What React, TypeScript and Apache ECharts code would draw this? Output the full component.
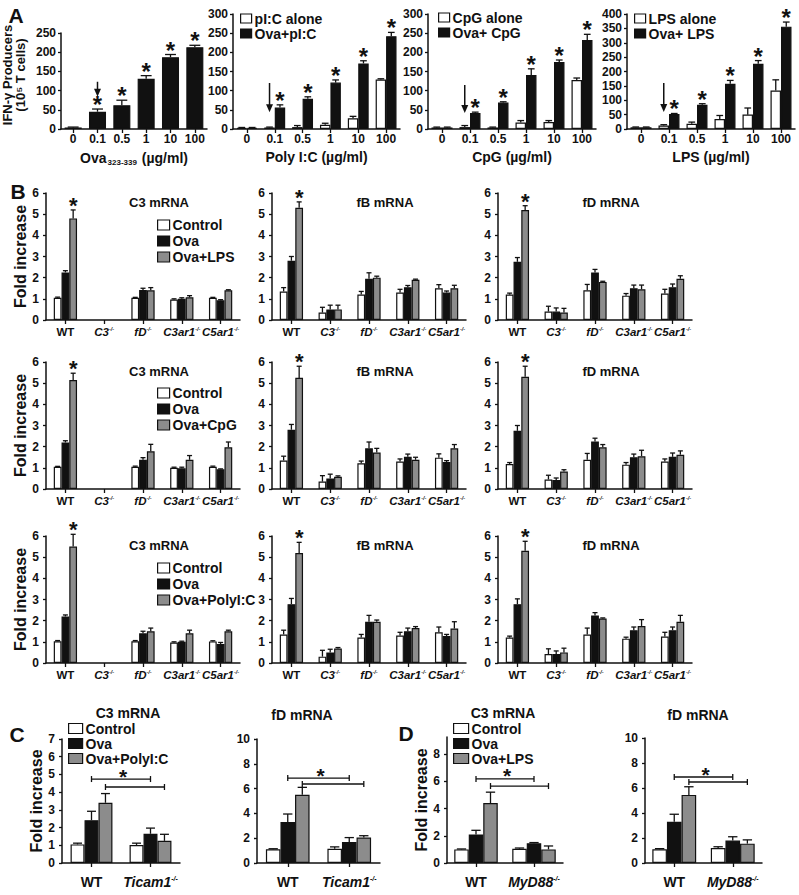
import React, { useEffect, useRef } from "react";
import * as echarts from "echarts";

const FONT = '"Liberation Sans", Arial, Helvetica, sans-serif';
const INK = "#111111";
const GRAY = "#8c8c8c";
const WHITE = "#ffffff";

// ---------- Panel A data ----------
const DOSES = ["0", "0.1", "0.5", "1", "10", "100"];
const OVA_MEAN = [4, 45, 62, 131, 187, 213];
const OVA_ERR = [1, 7, 13, 8, 7, 5];
const PIC_ALONE = [3, 4, 5, 11, 28, 129];
const PIC_ALONE_ERR = [1, 1, 4, 4, 5, 2];
const OVA_PIC = [3, 56, 79, 121, 171, 242];
const OVA_PIC_ERR = [1, 7, 5, 7, 7, 10];
const CPG_ALONE = [4, 5, 4, 17, 18, 128];
const CPG_ALONE_ERR = [1, 4, 1, 5, 4, 5];
const OVA_CPG = [4, 42, 69, 141, 175, 232];
const OVA_CPG_ERR = [1, 2, 2, 16, 5, 15];
const LPS_ALONE = [6, 12, 18, 35, 50, 134];
const LPS_ALONE_ERR = [1, 3, 6, 12, 23, 37];
const OVA_LPS = [6, 52, 84, 157, 227, 356];
const OVA_LPS_ERR = [1, 2, 4, 12, 11, 16];
// arrows: [category, series, from value, tip value]
const ARROW_A1 = [1, 0, 123, 84];
const ARROW_A2 = [1, 0, 120, 44];
const ARROW_A3 = [1, 0, 115, 42];
const ARROW_A4 = [1, 0, 160, 59];

// ---------- Panel B data (rows: Control, Ova, Ova+TLR ligand) ----------
const GENOTYPES = ["WT", "C3", "fD", "C3ar1", "C5ar1"];
const LPS_C3 = [[1.05, null, 1.05, 0.97, 1.05], [2.25, null, 1.42, 1.0, 0.93], [4.8, null, 1.4, 1.07, 1.4]];
const LPS_C3_ERR = [[0.03, null, 0.02, 0.03, 0.02], [0.08, null, 0.08, 0.05, 0.03], [0.4, null, 0.13, 0.08, 0.03]];
const LPS_FB = [[1.35, 0.35, 1.2, 1.3, 1.5], [2.8, 0.5, 1.95, 1.55, 1.3], [5.3, 0.5, 2.0, 1.9, 1.5]];
const LPS_FB_ERR = [[0.18, 0.25, 0.15, 0.15, 0.17], [0.2, 0.2, 0.28, 0.08, 0.07], [0.28, 0.2, 0.07, 0.03, 0.14]];
const LPS_FD = [[1.2, 0.4, 1.4, 1.15, 1.25], [2.75, 0.4, 2.25, 1.5, 1.55], [5.2, 0.35, 1.8, 1.45, 1.95]];
const LPS_FD_ERR = [[0.07, 0.25, 0.28, 0.1, 0.2], [0.2, 0.17, 0.14, 0.15, 0.15], [0.2, 0.2, 0.03, 0.2, 0.14]];

const CPG_C3 = [[1.05, null, 1.05, 1.0, 1.05], [2.2, null, 1.38, 0.98, 0.93], [5.15, null, 1.78, 1.38, 1.97]];
const CPG_C3_ERR = [[0.02, null, 0.03, 0.03, 0.03], [0.08, null, 0.1, 0.05, 0.02], [0.32, null, 0.33, 0.2, 0.25]];
const CPG_FB = [[1.35, 0.35, 1.22, 1.3, 1.48], [2.8, 0.5, 1.92, 1.52, 1.27], [5.25, 0.58, 1.72, 1.38, 1.92]];
const CPG_FB_ERR = [[0.2, 0.28, 0.1, 0.12, 0.18], [0.25, 0.2, 0.3, 0.13, 0.07], [0.55, 0.04, 0.2, 0.12, 0.18]];
const CPG_FD = [[1.18, 0.45, 1.38, 1.15, 1.3], [2.75, 0.42, 2.25, 1.5, 1.52], [5.3, 0.83, 1.97, 1.55, 1.62]];
const CPG_FD_ERR = [[0.07, 0.2, 0.3, 0.1, 0.12], [0.25, 0.1, 0.15, 0.15, 0.18], [0.5, 0.08, 0.13, 0.28, 0.18]];

const PIC_C3 = [[1.03, null, 1.03, 0.97, 1.02], [2.2, null, 1.4, 1.0, 0.9], [5.5, null, 1.5, 1.4, 1.5]];
const PIC_C3_ERR = [[0.03, null, 0.03, 0.03, 0.03], [0.07, null, 0.1, 0.03, 0.07], [0.58, null, 0.15, 0.15, 0.05]];
const PIC_FB = [[1.35, 0.3, 1.2, 1.3, 1.45], [2.78, 0.5, 1.95, 1.5, 1.27], [5.2, 0.68, 1.95, 1.65, 1.63]];
const PIC_FB_ERR = [[0.2, 0.3, 0.15, 0.15, 0.25], [0.27, 0.15, 0.3, 0.15, 0.08], [0.5, 0.05, 0.08, 0.07, 0.32]];
const PIC_FD = [[1.2, 0.42, 1.35, 1.15, 1.25], [2.78, 0.42, 2.25, 1.55, 1.55], [5.3, 0.5, 2.1, 1.75, 1.95]];
const PIC_FD_ERR = [[0.07, 0.25, 0.3, 0.07, 0.2], [0.25, 0.15, 0.13, 0.15, 0.15], [0.45, 0.2, 0.03, 0.3, 0.3]];

// ---------- Panels C / D data ----------
const TICAM_CATS = ["WT", "Ticam1"];
const MYD_CATS = ["WT", "MyD88"];
const TICAM_C3 = [[1.05, 1.02], [2.42, 1.65], [3.4, 1.25]];
const TICAM_C3_ERR = [[0.07, 0.1], [0.5, 0.32], [0.52, 0.37]];
const TICAM_FD = [[1.1, 1.15], [3.3, 1.7], [5.5, 2.05]];
const TICAM_FD_ERR = [[0.05, 0.15], [0.65, 0.35], [0.6, 0.15]];
const MYD_C3 = [[1.0, 1.05], [2.1, 1.45], [4.4, 1.0]];
const MYD_C3_ERR = [[0.03, 0.05], [0.3, 0.05], [0.8, 0.25]];
const MYD_FD = [[1.1, 1.2], [3.3, 1.8], [5.45, 1.55]];
const MYD_FD_ERR = [[0.05, 0.1], [0.6, 0.3], [0.65, 0.3]];
// brackets: [from category, to category, series, value, star]
const TICAM_C3_BRACKETS = [[0, 1, 1, 4.74, 1], [0, 1, 2, 4.29, 0]];
const TICAM_FD_BRACKETS = [[0, 1, 1, 6.85, 1], [0, 1, 2, 6.37, 0]];
const MYD_C3_BRACKETS = [[0, 1, 1, 6.17, 1], [0, 1, 2, 5.65, 0]];
const MYD_FD_BRACKETS = [[0, 1, 1, 6.88, 1], [0, 1, 2, 6.48, 0]];

const bold = (size: number, extra: any = {}) => ({ fontFamily: FONT, fontWeight: "bold", fontSize: size, color: INK, ...extra });

function barPos(api: any, cat: number, si: number, n: number, gap: number) {
  const band = api.size([1, 0])[0];
  const group = band * (1 - gap);
  const bw = group / n;
  const c = api.coord([cat, 0]);
  return { x: c[0] - group / 2 + bw * (si + 0.5), bw };
}

function starText(x: number, y: number, size: number) {
  return {
    type: "text",
    style: {
      text: "*", x, y, textAlign: "center", textVerticalAlign: "middle", align: "center", verticalAlign: "middle",
      font: `bold ${size}px ${FONT}`, lineHeight: Math.round(size * 0.5), fill: INK,
    },
  };
}

type Panel = {
  left: number; top: number; width: number; height: number;
  cats: string[]; max: number; interval?: number; customTicks?: number[];
  names: string[]; colors: string[]; means: any[][]; errs: any[][]; gap: number;
  stars: number[][]; starSize: number;
  xAxisLabel: any; xName?: string; xNameGap?: number; xNameStyle?: any;
  yFont: number; yMargin: number; yName?: string; yNameGap?: number;
  arrow?: number[]; brackets?: number[][];
  legend?: { left: number; top: number; lineHeight: number; iw: number; ih: number; size: number };
};

const grids: any[] = [];
const xAxes: any[] = [];
const yAxes: any[] = [];
const seriesList: any[] = [];
const legends: any[] = [];

function addPanel(p: Panel) {
  const gi = grids.length;
  const n = p.names.length;
  grids.push({ left: p.left, top: p.top, width: p.width, height: p.height, containLabel: false });
  xAxes.push({
    type: "category", gridIndex: gi, data: p.cats,
    axisLine: { show: true, lineStyle: { color: INK, width: 1.5 } },
    axisTick: { show: true, alignWithLabel: true, length: 4, lineStyle: { color: INK, width: 1.3 } },
    axisLabel: { interval: 0, ...p.xAxisLabel },
    name: p.xName, nameLocation: "middle", nameGap: p.xNameGap, nameTextStyle: p.xNameStyle,
    splitLine: { show: false },
  });
  const yAxis: any = {
    type: "value", gridIndex: gi, min: 0, max: p.max,
    axisLine: { show: true, lineStyle: { color: INK, width: 1.5 } },
    axisTick: { show: true, length: 3, lineStyle: { color: INK, width: 1.3 } },
    axisLabel: bold(p.yFont, { margin: p.yMargin }),
    splitLine: { show: false },
  };
  if (p.interval) yAxis.interval = p.interval;
  if (p.customTicks) {
    yAxis.axisTick.customValues = p.customTicks;
    yAxis.axisLabel.customValues = p.customTicks;
  }
  if (p.yName) {
    yAxis.name = p.yName;
    yAxis.nameLocation = "middle";
    yAxis.nameRotate = 90;
    yAxis.nameGap = p.yNameGap;
    yAxis.nameTextStyle = bold(16);
  }
  yAxes.push(yAxis);

  p.names.forEach((nm, si) => {
    seriesList.push({
      type: "bar", name: nm, xAxisIndex: gi, yAxisIndex: gi, data: p.means[si],
      barGap: "0%", barCategoryGap: `${p.gap * 100}%`, silent: true,
      itemStyle: { color: p.colors[si], borderColor: INK, borderWidth: 1.2 },
    });
  });

  const items: any[] = [];
  p.means.forEach((arr, si) =>
    arr.forEach((m: any, ci: number) => {
      if (m == null) return;
      const e = p.errs[si][ci] ?? 0;
      const star = p.stars.some((s) => s[0] === ci && s[1] === si) ? 1 : 0;
      items.push([ci, si, m, e, star]);
    })
  );
  const gap = p.gap;
  const starSize = p.starSize;
  seriesList.push({
    type: "custom", xAxisIndex: gi, yAxisIndex: gi, clip: false, silent: true, z: 5,
    encode: { x: 0, y: 2 }, data: items,
    renderItem: (_params: any, api: any) => {
      const cat = api.value(0), si = api.value(1), m = api.value(2), e = api.value(3), star = api.value(4);
      const { x, bw } = barPos(api, cat, si, n, gap);
      const yb = api.coord([cat, m])[1];
      const yt = api.coord([cat, m + e])[1];
      const cap = Math.max(bw * 0.32, 2.5);
      const ch: any[] = [];
      if (e > 0) {
        ch.push({ type: "line", shape: { x1: x, y1: yb, x2: x, y2: yt }, style: { stroke: INK, lineWidth: 1.3 } });
        ch.push({ type: "line", shape: { x1: x - cap, y1: yt, x2: x + cap, y2: yt }, style: { stroke: INK, lineWidth: 1.3 } });
      }
      if (star) ch.push(starText(x, yt - 4.5, starSize));
      return { type: "group", children: ch };
    },
  });

  if (p.arrow) {
    seriesList.push({
      type: "custom", xAxisIndex: gi, yAxisIndex: gi, clip: false, silent: true, z: 6,
      encode: { x: 0, y: 2 }, data: [p.arrow],
      renderItem: (_params: any, api: any) => {
        const cat = api.value(0), si = api.value(1), v0 = api.value(2), v1 = api.value(3);
        const { x } = barPos(api, cat, si, n, gap);
        const y0 = api.coord([cat, v0])[1];
        const y1 = api.coord([cat, v1])[1];
        const head = 8;
        return {
          type: "group",
          children: [
            { type: "line", shape: { x1: x, y1: y0, x2: x, y2: y1 - head + 1 }, style: { stroke: INK, lineWidth: 1.5 } },
            { type: "polygon", shape: { points: [[x - 3.5, y1 - head], [x + 3.5, y1 - head], [x, y1]] }, style: { fill: INK } },
          ],
        };
      },
    });
  }

  if (p.brackets) {
    seriesList.push({
      type: "custom", xAxisIndex: gi, yAxisIndex: gi, clip: false, silent: true, z: 6,
      encode: { x: 0, y: 3 }, data: p.brackets,
      renderItem: (_params: any, api: any) => {
        const c1 = api.value(0), c2 = api.value(1), si = api.value(2), v = api.value(3), star = api.value(4);
        const a = barPos(api, c1, si, n, gap).x;
        const b = barPos(api, c2, si, n, gap).x;
        const y = api.coord([c1, v])[1];
        const st = { stroke: INK, lineWidth: 1.3 };
        const ch: any[] = [
          { type: "line", shape: { x1: a, y1: y, x2: b, y2: y }, style: st },
          { type: "line", shape: { x1: a, y1: y - 3, x2: a, y2: y + 3 }, style: st },
          { type: "line", shape: { x1: b, y1: y - 3, x2: b, y2: y + 3 }, style: st },
        ];
        if (star) ch.push(starText((a + b) / 2 + 2, y - 3, 21));
        return { type: "group", children: ch };
      },
    });
  }

  if (p.legend) {
    const L = p.legend;
    legends.push({
      orient: "vertical", left: L.left, top: L.top, padding: 0, itemGap: 0,
      itemWidth: L.iw, itemHeight: L.ih, icon: "rect", selectedMode: false,
      data: p.names,
      itemStyle: { borderColor: INK, borderWidth: 1.2 },
      textStyle: bold(L.size, { lineHeight: L.lineHeight, padding: [0, 0, 0, -2] }),
    });
  }
}

// ---------- Panel A ----------
const aXLabel = bold(12, { margin: 4 });
const aStarsBlack = [[1, 1], [2, 1], [3, 1], [4, 1], [5, 1]];
addPanel({
  left: 61, top: 33, width: 146, height: 96, cats: DOSES, max: 250, interval: 50,
  names: ["Ova"], colors: [INK], means: [OVA_MEAN], errs: [OVA_ERR], gap: 0.3,
  stars: [[1, 0], [2, 0], [3, 0], [4, 0], [5, 0]], starSize: 24,
  xAxisLabel: aXLabel, xName: "{n|Ova}{s|323-339}{n| (µg/ml)}", xNameGap: 21,
  xNameStyle: { rich: { n: bold(14), s: bold(8, { verticalAlign: "bottom", padding: [8, 1, 0, 1] }) } },
  yFont: 12, yMargin: 5, arrow: ARROW_A1,
});
addPanel({
  left: 233, top: 14, width: 167, height: 115, cats: DOSES, max: 300, interval: 50,
  names: ["pI:C alone", "Ova+pI:C"], colors: [WHITE, INK],
  means: [PIC_ALONE, OVA_PIC], errs: [PIC_ALONE_ERR, OVA_PIC_ERR], gap: 0.25,
  stars: aStarsBlack, starSize: 24,
  xAxisLabel: aXLabel, xName: "Poly I:C (µg/ml)", xNameGap: 21, xNameStyle: bold(14),
  yFont: 12, yMargin: 5, arrow: ARROW_A2,
  legend: { left: 240, top: 11, lineHeight: 15, iw: 11, ih: 9, size: 14 },
});
addPanel({
  left: 428, top: 14, width: 168, height: 115, cats: DOSES, max: 300, interval: 50,
  names: ["CpG alone", "Ova+ CpG"], colors: [WHITE, INK],
  means: [CPG_ALONE, OVA_CPG], errs: [CPG_ALONE_ERR, OVA_CPG_ERR], gap: 0.25,
  stars: aStarsBlack, starSize: 24,
  xAxisLabel: aXLabel, xName: "CpG (µg/ml)", xNameGap: 21, xNameStyle: bold(14),
  yFont: 12, yMargin: 5, arrow: ARROW_A3,
  legend: { left: 438, top: 10, lineHeight: 15, iw: 11, ih: 9, size: 14 },
});
addPanel({
  left: 627, top: 14, width: 168, height: 115, cats: DOSES, max: 400, interval: 50,
  names: ["LPS alone", "Ova+ LPS"], colors: [WHITE, INK],
  means: [LPS_ALONE, OVA_LPS], errs: [LPS_ALONE_ERR, OVA_LPS_ERR], gap: 0.25,
  stars: aStarsBlack, starSize: 24,
  xAxisLabel: aXLabel, xName: "LPS (µg/ml)", xNameGap: 21, xNameStyle: bold(14),
  yFont: 12, yMargin: 5, arrow: ARROW_A4,
  legend: { left: 634, top: 11, lineHeight: 15, iw: 11, ih: 9, size: 14 },
});

// ---------- Panel B ----------
const koLabel = (size: number, supSize: number, margin: number) => ({
  margin,
  formatter: (v: string) => (v === "WT" ? "{w|WT}" : `{i|${v}}{s|-/-}`),
  rich: {
    w: bold(size),
    i: bold(size, { fontStyle: "italic" }),
    s: bold(supSize, { fontStyle: "italic", verticalAlign: "top" }),
  },
});
const B_COLS = [46, 272, 498];
const B_ROWS = [193, 362, 536];
const B_LIGANDS = ["Ova+LPS", "Ova+CpG", "Ova+PolyI:C"];
const B_DATA = [
  [[LPS_C3, LPS_C3_ERR], [LPS_FB, LPS_FB_ERR], [LPS_FD, LPS_FD_ERR]],
  [[CPG_C3, CPG_C3_ERR], [CPG_FB, CPG_FB_ERR], [CPG_FD, CPG_FD_ERR]],
  [[PIC_C3, PIC_C3_ERR], [PIC_FB, PIC_FB_ERR], [PIC_FD, PIC_FD_ERR]],
];
const B_TITLES = ["C3 mRNA", "fB mRNA", "fD mRNA"];
const B_LEGEND_TOP = [217, 385, 560];
const titleTexts: any[] = [];
B_ROWS.forEach((top, r) => {
  B_COLS.forEach((left, c) => {
    const [means, errs] = B_DATA[r][c];
    addPanel({
      left, top, width: 194, height: 127, cats: GENOTYPES, max: 6, interval: 1,
      names: ["Control", "Ova", B_LIGANDS[r]], colors: [WHITE, INK, GRAY],
      means, errs, gap: 0.4, stars: [[0, 2]], starSize: 22,
      xAxisLabel: koLabel(11.5, 5.5, 6),
      yFont: 12, yMargin: 7,
      yName: c === 0 ? "Fold increase" : undefined, yNameGap: 16,
      legend: c === 0 ? { left: 157, top: B_LEGEND_TOP[r], lineHeight: 16, iw: 12, ih: 10, size: 14 } : undefined,
    });
    titleTexts.push({ x: left + 113, y: top + 9, text: B_TITLES[c], size: 13 });
  });
});

// ---------- Panels C & D ----------
addPanel({
  left: 62, top: 739, width: 118, height: 124, cats: TICAM_CATS, max: 7, interval: 1,
  names: ["Control", "Ova", "Ova+PolyI:C"], colors: [WHITE, INK, GRAY],
  means: TICAM_C3, errs: TICAM_C3_ERR, gap: 0.29, stars: [], starSize: 22,
  xAxisLabel: koLabel(14, 7, 12), yFont: 12, yMargin: 7,
  yName: "Fold increase", yNameGap: 16, brackets: TICAM_C3_BRACKETS,
  legend: { left: 68, top: 721, lineHeight: 15, iw: 14, ih: 10, size: 14 },
});
addPanel({
  left: 257, top: 739, width: 123, height: 124, cats: TICAM_CATS, max: 10, interval: 2,
  names: ["Control", "Ova", "Ova+PolyI:C"], colors: [WHITE, INK, GRAY],
  means: TICAM_FD, errs: TICAM_FD_ERR, gap: 0.29, stars: [], starSize: 22,
  xAxisLabel: koLabel(14, 7, 12), yFont: 12, yMargin: 7, brackets: TICAM_FD_BRACKETS,
});
addPanel({
  left: 447, top: 737, width: 116, height: 126, cats: MYD_CATS, max: 9.25, customTicks: [0, 2, 4, 6, 8],
  names: ["Control", "Ova", "Ova+LPS"], colors: [WHITE, INK, GRAY],
  means: MYD_C3, errs: MYD_C3_ERR, gap: 0.25, stars: [], starSize: 22,
  xAxisLabel: koLabel(14, 7, 12), yFont: 12, yMargin: 7,
  yName: "Fold increase", yNameGap: 14, brackets: MYD_C3_BRACKETS,
  legend: { left: 453, top: 721, lineHeight: 15, iw: 15, ih: 10, size: 14 },
});
addPanel({
  left: 645, top: 738, width: 117, height: 125, cats: MYD_CATS, max: 10, interval: 2,
  names: ["Control", "Ova", "Ova+LPS"], colors: [WHITE, INK, GRAY],
  means: MYD_FD, errs: MYD_FD_ERR, gap: 0.25, stars: [], starSize: 22,
  xAxisLabel: koLabel(14, 7, 12), yFont: 12, yMargin: 7, brackets: MYD_FD_BRACKETS,
});
titleTexts.push({ x: 128, y: 713, text: "C3 mRNA", size: 14 });
titleTexts.push({ x: 302, y: 715, text: "fD mRNA", size: 14 });
titleTexts.push({ x: 503, y: 713, text: "C3 mRNA", size: 14 });
titleTexts.push({ x: 698, y: 715, text: "fD mRNA", size: 14 });

function gText(x: number, y: number, text: string, size: number, rotation = 0) {
  return {
    type: "text", x, y, rotation, silent: true,
    style: {
      text, x: 0, y: 0, textAlign: "center", textVerticalAlign: "middle", align: "center", verticalAlign: "middle",
      font: `bold ${size}px ${FONT}`, fill: INK,
    },
  };
}

const graphics: any[] = [
  gText(16, 15, "A", 21),
  gText(18, 191, "B", 21),
  gText(17, 734, "C", 21),
  gText(406, 733, "D", 21),
  gText(7, 75, "IFN-γ Producers", 13, Math.PI / 2),
  gText(20, 75, "(10⁵ T cells)", 13, Math.PI / 2),
  ...titleTexts.map((t) => gText(t.x, t.y, t.text, t.size)),
];

export default function App() {
  const ref = useRef<HTMLDivElement>(null);
  useEffect(() => {
    if (!ref.current) return;
    const chart = echarts.init(ref.current, undefined, { renderer: "svg" });
    chart.setOption({
      animation: false,
      backgroundColor: "#ffffff",
      textStyle: { fontFamily: FONT },
      grid: grids,
      xAxis: xAxes,
      yAxis: yAxes,
      legend: legends,
      series: seriesList,
      graphic: { elements: graphics },
    });
    return () => chart.dispose();
  }, []);
  return (
    <div
      ref={ref}
      style={{ position: "absolute", left: 0, top: 0, width: 799, height: 895, background: "#fff" }}
    />
  );
}
